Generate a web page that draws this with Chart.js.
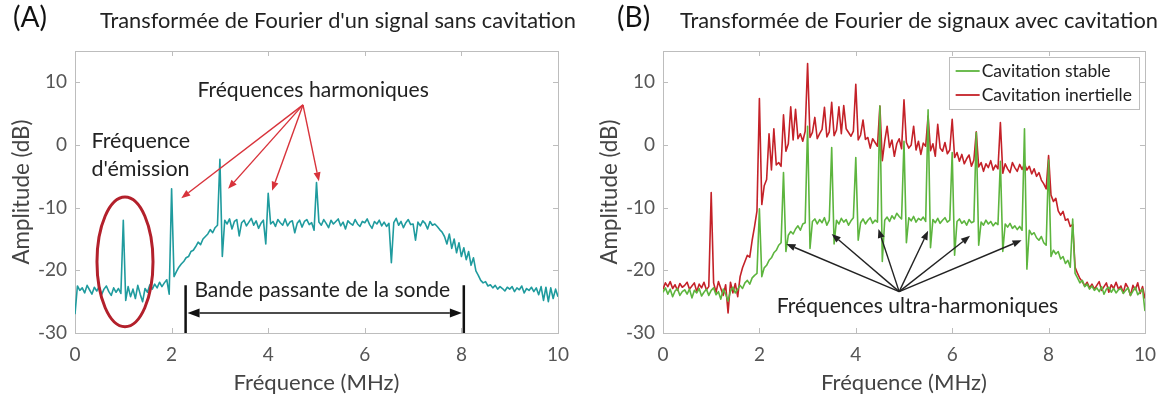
<!DOCTYPE html>
<html><head><meta charset="utf-8">
<script src="https://cdn.jsdelivr.net/npm/chart.js@4.4.1/dist/chart.umd.min.js"></script>
<style>
html,body{margin:0;padding:0;background:#fff;width:1166px;height:401px;overflow:hidden}
.p{position:absolute;top:0;width:583px;height:401px}
#pa{left:0}#pb{left:583px}
</style></head><body>
<div class="p" id="pa"><canvas id="ca" width="583" height="401"></canvas></div>
<div class="p" id="pb"><canvas id="cb" width="583" height="401"></canvas></div>
<script>
// ---------- DATA ----------
const FREQ = [
0,0.05,0.1,0.15,0.2,0.25,0.3,0.35,0.4,0.45,
0.5,0.55,0.6,0.65,0.7,0.75,0.8,0.85,0.9,0.95,
1,1.05,1.1,1.15,1.2,1.25,1.3,1.35,1.4,1.45,
1.5,1.55,1.6,1.65,1.7,1.75,1.8,1.85,1.9,1.95,
2,2.05,2.1,2.15,2.2,2.25,2.3,2.35,2.4,2.45,
2.5,2.55,2.6,2.65,2.7,2.75,2.8,2.85,2.9,2.95,
3,3.05,3.1,3.15,3.2,3.25,3.3,3.35,3.4,3.45,
3.5,3.55,3.6,3.65,3.7,3.75,3.8,3.85,3.9,3.95,
4,4.05,4.1,4.15,4.2,4.25,4.3,4.35,4.4,4.45,
4.5,4.55,4.6,4.65,4.7,4.75,4.8,4.85,4.9,4.95,
5,5.05,5.1,5.15,5.2,5.25,5.3,5.35,5.4,5.45,
5.5,5.55,5.6,5.65,5.7,5.75,5.8,5.85,5.9,5.95,
6,6.05,6.1,6.15,6.2,6.25,6.3,6.35,6.4,6.45,
6.5,6.55,6.6,6.65,6.7,6.75,6.8,6.85,6.9,6.95,
7,7.05,7.1,7.15,7.2,7.25,7.3,7.35,7.4,7.45,
7.5,7.55,7.6,7.65,7.7,7.75,7.8,7.85,7.9,7.95,
8,8.05,8.1,8.15,8.2,8.25,8.3,8.35,8.4,8.45,
8.5,8.55,8.6,8.65,8.7,8.75,8.8,8.85,8.9,8.95,
9,9.05,9.1,9.15,9.2,9.25,9.3,9.35,9.4,9.45,
9.5,9.55,9.6,9.65,9.7,9.75,9.8,9.85,9.9,9.95,
10];

// (A) signal sans cavitation (dB)
const AMP_SANS = [
-27,-22.5,-23.2,-22.8,-23.6,-22.4,-23.1,-23.8,-22.7,-23.3,
-22.6,-23.9,-23.0,-22.5,-23.4,-24.0,-22.8,-23.5,-22.9,-23.7,
-12,-24.8,-22.6,-24.2,-23.0,-24.5,-22.4,-23.8,-25.0,-22.9,
-23.5,-22.3,-23.0,-22.2,-22.8,-21.9,-22.6,-22.0,-21.5,-23.8,
-7,-21.0,-20.2,-19.5,-19.0,-18.6,-18.0,-17.8,-17.0,-16.8,
-16.2,-15.5,-15.9,-15.0,-14.6,-14.2,-13.5,-14.0,-13.2,-12.8,
-2.3,-17.8,-12.0,-12.6,-11.8,-13.4,-12.2,-11.9,-14.5,-12.4,
-12.0,-12.9,-12.3,-11.7,-12.8,-12.1,-13.3,-12.5,-12.0,-15.8,
-7.7,-12.6,-12.2,-13.0,-11.9,-12.4,-12.8,-11.8,-12.9,-12.3,
-12.1,-14.0,-12.5,-12.0,-13.1,-12.2,-11.9,-12.7,-12.4,-13.6,
-6.0,-12.3,-12.8,-11.9,-12.5,-13.2,-12.0,-12.6,-12.2,-11.8,
-12.9,-12.3,-13.4,-12.1,-12.5,-12.8,-11.9,-12.6,-13.0,-12.2,
-12.4,-11.8,-12.7,-13.3,-12.2,-12.6,-12.0,-12.9,-12.3,-13.0,
-12.5,-18.8,-12.4,-11.7,-12.8,-12.2,-13.2,-12.4,-11.9,-12.7,
-12.6,-15.2,-12.3,-12.9,-12.1,-12.5,-13.4,-12.2,-12.8,-12.6,
-13.0,-13.5,-13.9,-14.6,-15.8,-14.2,-16.5,-15.0,-17.2,-15.6,
-17.8,-16.4,-18.3,-17.0,-19.2,-18.0,-20.1,-20.8,-21.6,-22.0,
-21.8,-22.5,-22.3,-22.8,-22.4,-23.0,-22.6,-22.9,-23.3,-22.7,
-23.0,-22.6,-23.4,-22.8,-23.1,-22.5,-23.6,-22.9,-23.2,-22.7,
-23.4,-22.8,-23.9,-22.6,-24.8,-22.7,-25.0,-22.8,-24.5,-23.0,
-24.2];

// (B) cavitation stable (dB)
const AMP_STABLE = [
-23.5,-22.8,-23.8,-23.0,-24.2,-23.3,-22.9,-24.0,-23.4,-23.1,
-23.8,-23.0,-24.4,-23.2,-23.6,-22.9,-24.1,-23.5,-23.0,-24.0,
-23.2,-22.8,-23.9,-23.4,-24.6,-23.0,-23.8,-24.9,-23.3,-22.7,
-23.6,-23.0,-22.4,-22.9,-22.0,-21.6,-22.2,-21.2,-20.8,-20.5,
-10.2,-21.0,-19.6,-19.2,-18.4,-18.0,-17.2,-16.8,-16.0,-15.6,
-4.4,-17.0,-14.4,-13.8,-14.2,-13.4,-12.9,-13.6,-12.6,-12.4,
3.0,-16.5,-12.2,-11.8,-12.6,-11.9,-12.4,-11.6,-12.8,-12.0,
-0.4,-15.8,-12.0,-12.6,-11.7,-12.3,-11.9,-12.8,-12.1,-11.6,
-2.0,-15.2,-12.4,-11.8,-12.6,-12.0,-11.6,-12.5,-12.0,-12.3,
6.2,-18.6,-12.0,-11.5,-12.2,-11.3,-11.8,-10.9,-11.4,-11.8,
0.6,-15.6,-11.6,-12.1,-11.4,-12.3,-11.7,-12.0,-11.5,-12.2,
5.6,-16.4,-11.9,-12.4,-11.7,-12.5,-12.0,-11.6,-12.3,-12.0,
-1.2,-17.6,-12.2,-11.8,-12.5,-12.1,-12.8,-11.9,-12.4,-12.2,
2.0,-16.0,-12.3,-12.8,-12.0,-12.6,-12.2,-12.9,-12.4,-12.7,
-2.6,-17.0,-12.6,-13.1,-12.5,-13.3,-12.9,-13.5,-13.0,-13.6,
2.6,-19.8,-13.6,-14.3,-14.0,-14.8,-15.2,-14.6,-15.6,-16.0,
-2.4,-17.8,-16.8,-17.4,-17.0,-18.2,-17.8,-18.9,-18.4,-19.5,
-11.8,-20.5,-21.2,-22.0,-21.6,-22.6,-22.2,-23.0,-22.5,-23.2,
-22.8,-23.4,-22.6,-23.8,-23.0,-22.7,-23.5,-22.9,-23.6,-23.1,
-22.9,-23.7,-23.2,-22.8,-24.0,-23.3,-22.7,-23.9,-23.4,-23.0,
-26.5];

// (B) cavitation inertielle (dB)
const AMP_INERT = [
-23.0,-22.0,-22.6,-21.8,-22.9,-22.3,-23.2,-22.1,-22.7,-22.4,
-21.9,-23.0,-22.5,-22.0,-23.4,-22.2,-22.8,-21.9,-23.1,-22.6,
-7.6,-22.0,-23.5,-21.8,-22.9,-24.0,-22.3,-26.8,-21.9,-23.6,
-22.1,-24.2,-21.0,-19.6,-18.6,-17.6,-17.9,-15.2,-13.0,-10.5,
7.4,-9.5,-6.5,-5.5,1.8,-4.0,2.6,-3.2,-2.8,-3.4,
4.8,-1.0,0.2,6.1,0.8,5.7,1.0,1.8,0.6,2.2,
13.0,1.2,2.0,4.4,1.0,1.8,2.5,6.0,1.3,2.1,
6.8,1.5,2.4,6.1,1.8,6.3,2.6,2.0,1.4,2.2,
9.7,0.8,1.6,4.0,0.9,1.2,-0.5,1.0,0.4,-0.2,
6.2,-2.5,0.6,3.0,-0.4,0.8,-1.8,0.2,1.0,-0.6,
7.2,0.4,-0.5,0.0,3.0,-0.8,0.6,-1.5,0.3,-0.2,
4.6,-0.9,0.2,-1.8,3.3,-0.5,-1.0,0.4,-1.4,-0.8,
4.1,-2.0,-1.2,-2.6,-1.5,-3.0,-2.2,-1.6,-3.4,-2.4,
2.1,-3.5,-2.8,-4.2,-3.0,-3.6,-2.5,-4.0,-3.2,-3.8,
3.6,-4.5,-3.0,-3.8,-4.4,-2.8,-3.6,-4.2,-3.1,-3.9,
-3.0,-4.0,-3.4,-4.6,-3.8,-5.0,-4.4,-5.6,-6.2,-7.0,
-1.7,-8.0,-9.0,-8.5,-10.5,-11.2,-10.6,-12.0,-11.8,-13.0,
-12.7,-19.5,-20.5,-21.3,-21.8,-22.5,-21.9,-22.8,-22.2,-23.0,
-22.4,-21.8,-23.2,-22.6,-22.0,-23.5,-22.3,-22.9,-21.9,-23.0,
-22.5,-23.6,-22.1,-22.8,-24.0,-22.4,-23.1,-22.0,-23.7,-22.6,
-24.5];

const X_TICKS = [0,2,4,6,8,10];
const Y_TICKS = [-30,-20,-10,0,10];
const X_RANGE = [0,10];
const Y_RANGE = [-30,15];

const TITLE_A = "Transformée de Fourier d'un signal sans cavitation";
const TITLE_B = "Transformée de Fourier de signaux avec cavitation";
const SERIES_NAMES = ["Cavitation stable","Cavitation inertielle"];
const X_LABEL = "Fréquence (MHz)";
const Y_LABEL = "Amplitude (dB)";

// ---------- STYLE ----------
const F = "Lato";
const TEAL = "#1f9b9e", GREEN = "#5db53e", RED = "#c42128";
const ARROW_RED = "#d8333b";

const mctx = document.createElement('canvas').getContext('2d');
function fit(text, w){ mctx.font = '100px '+F; return 100*w/mctx.measureText(text).width; }
const FS_TITLE = (fit(TITLE_A,475)+fit(TITLE_B,478))/2;
const FS_LETTER = fit('(A)',34);
const FS_XL = fit(X_LABEL,166);
const FS_YL = fit(Y_LABEL,145);
const FS_ANN = (fit('Fréquences harmoniques',227)+fit('Bande passante de la sonde',259)+fit('Fréquences ultra-harmoniques',282))/3;
const FS_EM = fit('Fréquence',99);
const FS_LEG = fit(SERIES_NAMES[1],150);
const FS_TICK = 19;

function pts(ys){ return FREQ.map((f,i)=>({x:f,y:ys[i]})); }

function arrow(ctx,x1,y1,x2,y2,col,w,hl,hw,both){
  const ang=Math.atan2(y2-y1,x2-x1), c=Math.cos(ang), s=Math.sin(ang);
  const bx=x2-hl*c, by=y2-hl*s;
  const sx=both?x1+hl*c:x1, sy=both?y1+hl*s:y1;
  ctx.strokeStyle=col; ctx.lineWidth=w;
  ctx.beginPath(); ctx.moveTo(sx,sy); ctx.lineTo(bx,by); ctx.stroke();
  ctx.fillStyle=col;
  ctx.beginPath(); ctx.moveTo(x2,y2); ctx.lineTo(bx+hw*s,by-hw*c); ctx.lineTo(bx-hw*s,by+hw*c); ctx.closePath(); ctx.fill();
  if(both){
    ctx.beginPath(); ctx.moveTo(x1,y1); ctx.lineTo(sx+hw*s,sy-hw*c); ctx.lineTo(sx-hw*s,sy+hw*c); ctx.closePath(); ctx.fill();
  }
}

const framePlugin = {
  id:'frame',
  beforeDatasetsDraw(chart){
    const {ctx, chartArea:a, scales:{x,y}} = chart;
    ctx.save();
    ctx.strokeStyle='#bdbdbd'; ctx.lineWidth=1;
    ctx.strokeRect(Math.round(a.left)+0.5, Math.round(a.top)+0.5, Math.round(a.right-a.left), Math.round(a.bottom-a.top));
    const L=5;
    ctx.beginPath();
    X_TICKS.forEach(v=>{ const p=Math.round(x.getPixelForValue(v))+0.5;
      ctx.moveTo(p,a.bottom); ctx.lineTo(p,a.bottom-L); ctx.moveTo(p,a.top); ctx.lineTo(p,a.top+L); });
    Y_TICKS.forEach(v=>{ const p=Math.round(y.getPixelForValue(v))+0.5;
      ctx.moveTo(a.left,p); ctx.lineTo(a.left+L,p); ctx.moveTo(a.right,p); ctx.lineTo(a.right-L,p); });
    ctx.stroke();
    ctx.restore();
  }
};

function headerPlugin(letter, title, lx, tx){
  return { id:'header', afterDraw(chart){
    const ctx=chart.ctx; ctx.save();
    ctx.textBaseline='middle'; ctx.textAlign='left'; ctx.fillStyle='#111';
    ctx.font=FS_LETTER.toFixed(1)+'px '+F; ctx.fillText(letter, lx, 18);
    ctx.fillStyle='#222'; ctx.font=FS_TITLE.toFixed(1)+'px '+F; ctx.fillText(title, tx, 21);
    ctx.restore();
  }};
}

const annotA = { id:'annotA', afterDatasetsDraw(chart){
  const {ctx, scales:{x,y}} = chart; const X=v=>x.getPixelForValue(v), Y=v=>y.getPixelForValue(v);
  ctx.save();
  ctx.strokeStyle='#b3202b'; ctx.lineWidth=3;
  ctx.beginPath(); ctx.ellipse(X(1.035),Y(-18.65),X(1.035)-X(0.455),Y(-29)-Y(-18.65),0,0,2*Math.PI); ctx.stroke();
  ctx.fillStyle='#222'; ctx.textBaseline='middle';
  ctx.textAlign='left'; ctx.font=FS_EM.toFixed(1)+'px '+F;
  ctx.fillText('Fréquence', X(0.34), Y(0.6));
  ctx.fillText("d'émission", X(0.34), Y(-3.8));
  ctx.textAlign='center'; ctx.font=FS_ANN.toFixed(1)+'px '+F;
  ctx.fillText('Fréquences harmoniques', X(4.93), Y(8.8));
  ctx.fillText('Bande passante de la sonde', X(5.12), Y(-23.1));
  const src=[4.72,6.4];
  [[2.2,-8.5],[3.17,-7.0],[4.08,-7.3],[5.05,-5.8]].forEach(t=>arrow(ctx,X(src[0]),Y(src[1]),X(t[0]),Y(t[1]),ARROW_RED,1.4,9,3.5));
  ctx.strokeStyle='#111'; ctx.lineWidth=2.5;
  ctx.beginPath(); ctx.moveTo(X(2.29),Y(-22.4)); ctx.lineTo(X(2.29),Y(-30));
  ctx.moveTo(X(8.05),Y(-22.4)); ctx.lineTo(X(8.05),Y(-30)); ctx.stroke();
  arrow(ctx,X(2.33),Y(-26.8),X(8.01),Y(-26.8),'#111',1.6,12,4.5,true);
  ctx.restore();
}};

const annotB = { id:'annotB', afterDatasetsDraw(chart){
  const {ctx, chartArea:a, scales:{x,y}} = chart; const X=v=>x.getPixelForValue(v), Y=v=>y.getPixelForValue(v);
  ctx.save();
  ctx.fillStyle='#222'; ctx.font=FS_ANN.toFixed(1)+'px '+F; ctx.textBaseline='middle'; ctx.textAlign='center';
  ctx.fillText('Fréquences ultra-harmoniques', X(5.28), Y(-25.8));
  const src=[4.9,-23.4];
  [[2.56,-15.8],[3.5,-14.2],[4.47,-13.4],[5.5,-13.7],[6.37,-14.5],[7.44,-15.2]].forEach(t=>arrow(ctx,X(src[0]),Y(src[1]),X(t[0]),Y(t[1]),'#222',1.4,9,3.5));
  ctx.font=FS_LEG.toFixed(1)+'px '+F;
  const tw=Math.max(...SERIES_NAMES.map(s=>ctx.measureText(s).width));
  const bw=tw+40, bh=52, bx=a.right-bw-6, by=a.top+6;
  ctx.fillStyle='#fff'; ctx.fillRect(bx,by,bw,bh);
  ctx.strokeStyle='#bdbdbd'; ctx.lineWidth=1; ctx.strokeRect(Math.round(bx)+0.5,Math.round(by)+0.5,Math.round(bw),bh);
  const cols=[GREEN,RED];
  ctx.textAlign='left';
  SERIES_NAMES.forEach((name,i)=>{ const yy=by+14+i*24;
    ctx.strokeStyle=cols[i]; ctx.lineWidth=1.8; ctx.beginPath(); ctx.moveTo(bx+7,yy); ctx.lineTo(bx+31,yy); ctx.stroke();
    ctx.fillStyle='#222'; ctx.fillText(name, bx+33, yy);
  });
  ctx.restore();
}};

function opts(yw, padR, ytCenter){
  const lhY = FS_YL*1.2, lhX = FS_XL*1.2;
  return {
    responsive:false, animation:false, devicePixelRatio:1,
    layout:{padding:{top:51,right:padR,bottom:0,left:0}},
    plugins:{legend:{display:false},tooltip:{enabled:false},title:{display:false}},
    elements:{point:{radius:0},line:{tension:0,borderJoinStyle:'round'}},
    scales:{
      x:{type:'linear',min:X_RANGE[0],max:X_RANGE[1],
         afterBuildTicks:s=>{s.ticks=X_TICKS.map(v=>({value:v}));},
         afterFit:s=>{s.height=68;},
         grid:{display:false,drawTicks:false},border:{display:false},
         ticks:{color:'#555',font:{family:F,size:FS_TICK},padding:10,maxRotation:0,autoSkip:false},
         title:{display:true,text:X_LABEL,color:'#444',font:{family:F,size:FS_XL},padding:{top:0,bottom:401-383-lhX/2}}},
      y:{type:'linear',min:Y_RANGE[0],max:Y_RANGE[1],
         afterBuildTicks:s=>{s.ticks=Y_TICKS.map(v=>({value:v}));},
         afterFit:s=>{s.width=yw;},
         grid:{display:false,drawTicks:false},border:{display:false},
         ticks:{color:'#555',font:{family:F,size:FS_TICK},padding:8,autoSkip:false},
         title:{display:true,text:Y_LABEL,color:'#444',font:{family:F,size:FS_YL},padding:{top:ytCenter-lhY/2,bottom:0}}}
    }
  };
}

new Chart(document.getElementById('ca'),{
  type:'line',
  data:{datasets:[{label:'Signal',data:pts(AMP_SANS),borderColor:TEAL,borderWidth:1.6,fill:false}]},
  options:opts(75,25,22),
  plugins:[framePlugin,annotA,headerPlugin('(A)',TITLE_A,13,100)]
});

new Chart(document.getElementById('cb'),{
  type:'line',
  data:{datasets:[
    {label:SERIES_NAMES[0],data:pts(AMP_STABLE),borderColor:GREEN,borderWidth:1.6,fill:false},
    {label:SERIES_NAMES[1],data:pts(AMP_INERT),borderColor:RED,borderWidth:1.6,fill:false}
  ]},
  options:opts(80,18,27),
  plugins:[framePlugin,annotB,headerPlugin('(B)',TITLE_B,34,97)]
});
</script>
</body></html>
